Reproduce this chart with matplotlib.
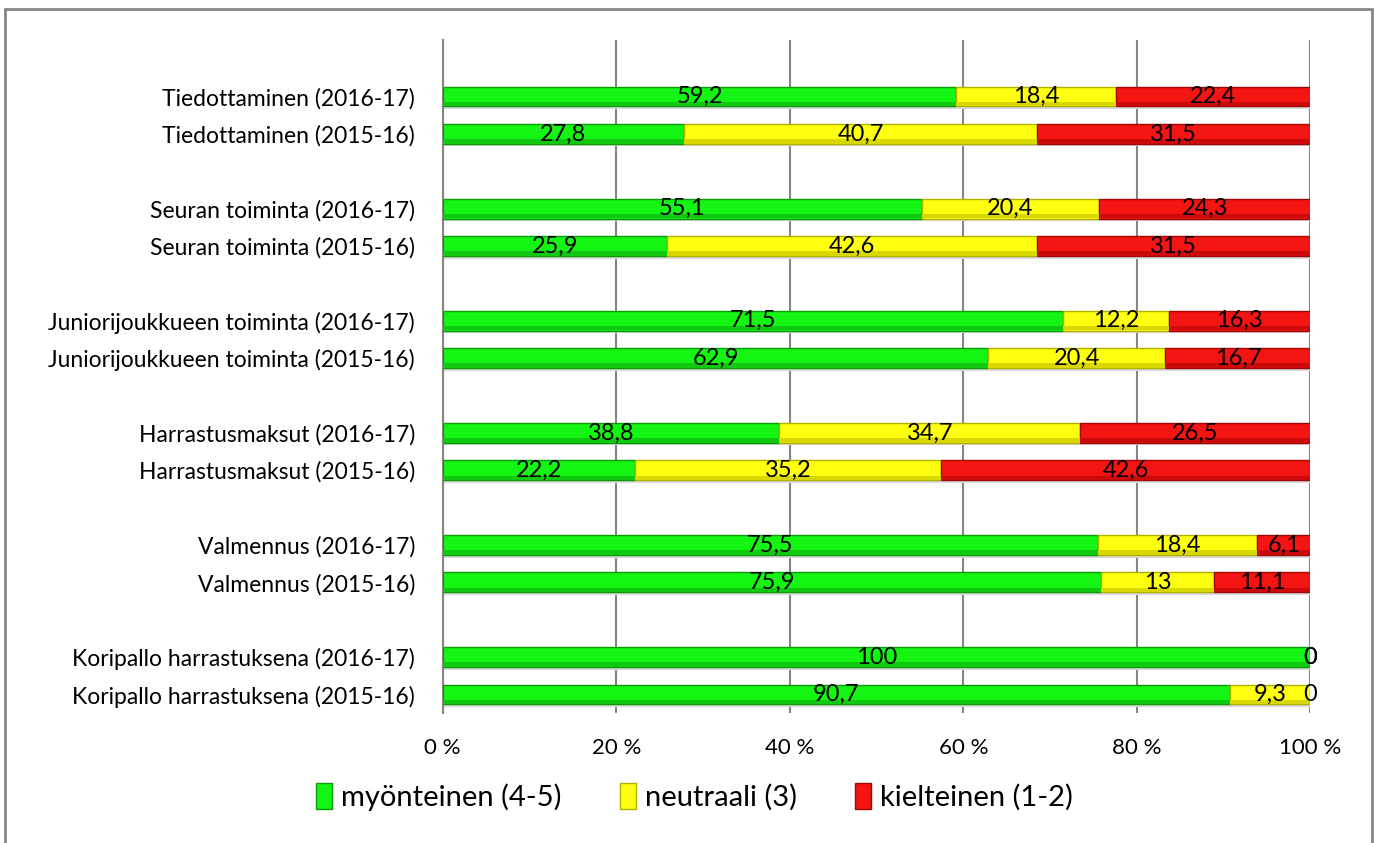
import matplotlib

matplotlib.use("Agg")
import matplotlib.pyplot as plt
from matplotlib.patches import Rectangle
import numpy as np

plt.rcParams["font.family"] = ["Lato", "DejaVu Sans"]

# categories top to bottom; "" marks the empty gap slots between groups
categories = [
    "",
    "Tiedottaminen (2016-17)", "Tiedottaminen (2015-16)", "",
    "Seuran toiminta (2016-17)", "Seuran toiminta (2015-16)", "",
    "Juniorijoukkueen toiminta (2016-17)", "Juniorijoukkueen toiminta (2015-16)", "",
    "Harrastusmaksut (2016-17)", "Harrastusmaksut (2015-16)", "",
    "Valmennus (2016-17)", "Valmennus (2015-16)", "",
    "Koripallo harrastuksena (2016-17)", "Koripallo harrastuksena (2015-16)",
]
positive = [None, 59.2, 27.8, None, 55.1, 25.9, None, 71.5, 62.9, None,
            38.8, 22.2, None, 75.5, 75.9, None, 100, 90.7]
neutral = [None, 18.4, 40.7, None, 20.4, 42.6, None, 12.2, 20.4, None,
           34.7, 35.2, None, 18.4, 13, None, 0, 9.3]
negative = [None, 22.4, 31.5, None, 24.3, 31.5, None, 16.3, 16.7, None,
            26.5, 42.6, None, 6.1, 11.1, None, 0, 0]

series_names = ["myönteinen (4-5)", "neutraali (3)", "kielteinen (1-2)"]
face_colors = ["#14f514", "#ffff10", "#f51414"]
edge_colors = ["#0a9a0a", "#b0b000", "#a00808"]
shade_colors = ["#10c810", "#d8d800", "#cc0a0a"]


def fmt(v):
    return f"{v:g}".replace(".", ",")


fig = plt.figure(figsize=(13.75, 8.43), dpi=100)
ax = fig.add_axes([0.322, 0.154, 0.631, 0.798])

# grey frame around the whole chart (bottom edge falls outside the image)
fig.patches.append(Rectangle((5 / 1375, -0.05), 1367 / 1375, 1.05 - 9 / 843,
                             transform=fig.transFigure, fill=False,
                             edgecolor="#868686", linewidth=2))

n = len(categories)
y = np.arange(n)
rows = [i for i in range(n) if positive[i] is not None]
series = [positive, neutral, negative]
bar_h = 0.53

for i in rows:
    vals = [s[i] for s in series]
    total = sum(vals)
    # soft shadow under the whole bar
    ax.barh(y[i] + 0.07, 100, height=bar_h, color="#d8d8d8", zorder=2,
            linewidth=0)
    left = 0.0
    for k, v in enumerate(vals):
        w = v / total * 100
        if w > 0:
            ax.barh(y[i], w, left=left, height=bar_h, color=face_colors[k],
                    edgecolor=edge_colors[k], linewidth=1.0, zorder=3)
            # darker lower rim for the bevelled look
            ax.barh(y[i] + bar_h * 0.38, w, left=left, height=bar_h * 0.22,
                    color=shade_colors[k], linewidth=0, zorder=3.5)
        ax.text(left + w / 2, y[i], fmt(v), ha="center", va="center",
                fontsize=17, color="black", zorder=4)
        left += w

ax.set_xlim(0, 100)
ax.set_ylim(n - 0.5, -0.5)
ax.set_yticks(y)
ax.set_yticklabels(categories, fontsize=16.5)
ax.set_xticks(np.arange(0, 101, 20))
ax.set_xticklabels([f"{t} %" for t in range(0, 101, 20)], fontsize=16)
ax.tick_params(axis="y", length=0, pad=20)
ax.tick_params(axis="x", length=0, pad=18)

ax.grid(axis="x", color="#868686", linewidth=1.5, zorder=0)
for side in ("top", "right", "bottom"):
    ax.spines[side].set_visible(False)
ax.spines["left"].set_color("#868686")
ax.spines["left"].set_linewidth(1.5)

handles = [Rectangle((0, 0), 1, 1, facecolor=face_colors[k],
                     edgecolor=edge_colors[k], linewidth=1.0)
           for k in range(3)]
fig.legend(handles, series_names, loc="center", bbox_to_anchor=(0.505, 0.055),
           ncol=3, frameon=False, fontsize=21, handlelength=0.55,
           handleheight=1.0, handletextpad=0.3, columnspacing=2.0)

fig.savefig("out.png", dpi=100)
